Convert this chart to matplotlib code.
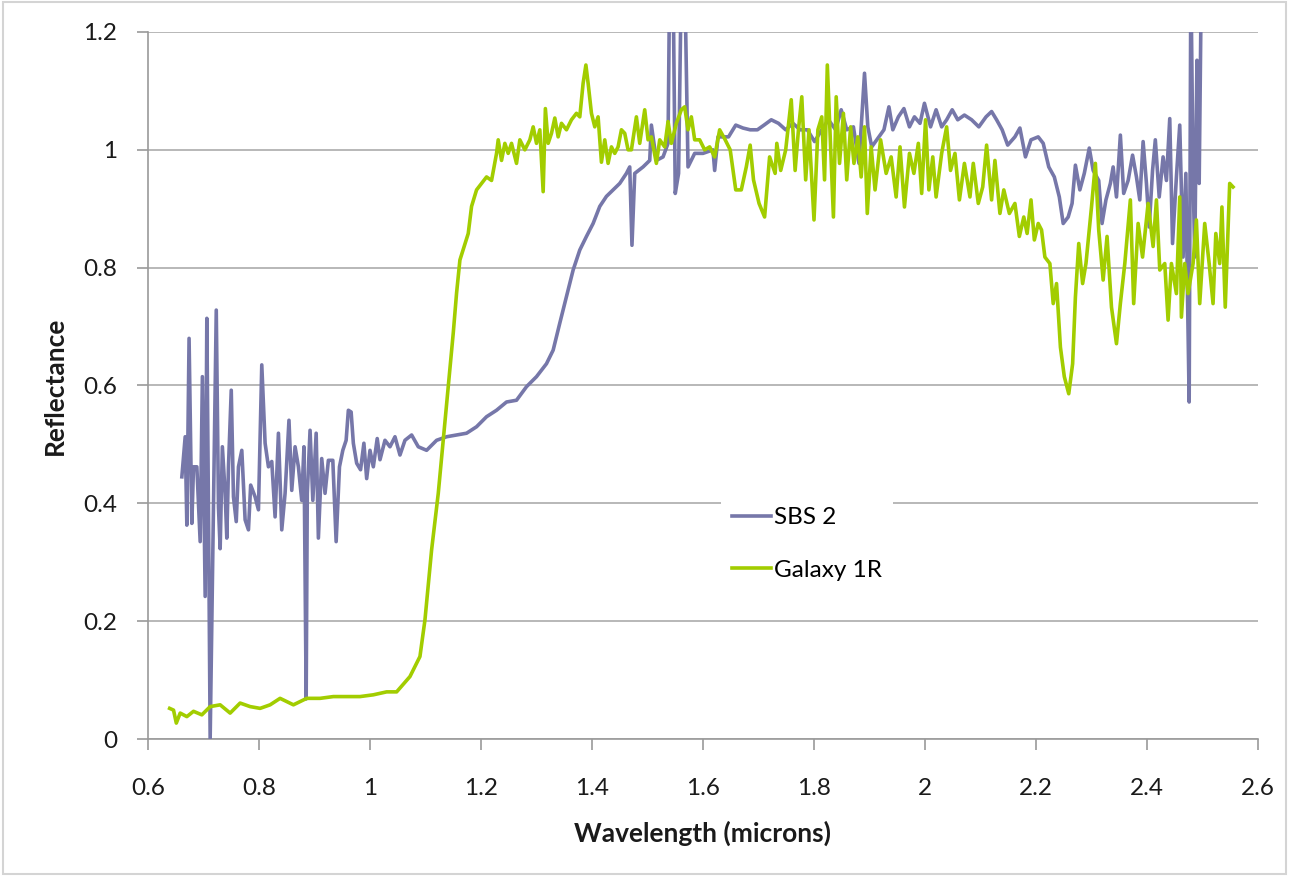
import matplotlib
matplotlib.use("Agg")
import matplotlib.pyplot as plt
from matplotlib.patches import Rectangle

# ---- data ----
sbs_x = [0.661, 0.667, 0.670, 0.674, 0.679, 0.682, 0.688, 0.694, 0.698, 0.703, 0.706, 0.709, 0.712,
         0.718, 0.723, 0.727, 0.730, 0.734, 0.739, 0.742, 0.745, 0.750, 0.754, 0.759, 0.763, 0.769,
         0.775, 0.781, 0.785, 0.793, 0.799, 0.805, 0.811, 0.817, 0.823, 0.829, 0.835, 0.841, 0.847,
         0.854, 0.859, 0.865, 0.871, 0.877, 0.881, 0.885, 0.887, 0.892, 0.897, 0.903, 0.907, 0.913,
         0.919, 0.925, 0.933, 0.939, 0.945, 0.951, 0.957, 0.961, 0.966, 0.970, 0.976, 0.983, 0.989,
         0.994, 1.000, 1.006, 1.013, 1.018, 1.027, 1.036, 1.045, 1.054, 1.063, 1.075, 1.087,
         1.102, 1.120, 1.138, 1.156, 1.174, 1.192, 1.210, 1.228, 1.246, 1.264, 1.282, 1.300, 1.318,
         1.330, 1.342, 1.354, 1.366, 1.378, 1.390, 1.402, 1.414, 1.426, 1.438, 1.450, 1.462, 1.468,
         1.472, 1.477, 1.492, 1.504, 1.507, 1.516, 1.528, 1.537, 1.540, 1.546, 1.550, 1.556, 1.561,
         1.567, 1.573, 1.585, 1.600, 1.618, 1.621, 1.627, 1.633, 1.646, 1.659, 1.672, 1.685, 1.698,
         1.710, 1.723, 1.736, 1.749, 1.762, 1.775, 1.788, 1.801, 1.814, 1.826, 1.839, 1.849, 1.859,
         1.871, 1.881, 1.891, 1.897, 1.904, 1.917, 1.926, 1.935, 1.942, 1.952, 1.962, 1.972, 1.981,
         1.991, 1.999, 2.010, 2.020, 2.030, 2.039, 2.049, 2.059, 2.071, 2.084, 2.097, 2.110, 2.120,
         2.129, 2.139, 2.149, 2.162, 2.171, 2.181, 2.191, 2.204, 2.213, 2.223, 2.233, 2.242, 2.249,
         2.258, 2.265, 2.271, 2.279, 2.287, 2.296, 2.303, 2.313, 2.319, 2.326, 2.334, 2.339, 2.345,
         2.352, 2.358, 2.366, 2.374, 2.381, 2.387, 2.393, 2.399, 2.404, 2.410, 2.415, 2.422, 2.429,
         2.435, 2.441, 2.446, 2.453, 2.459, 2.465, 2.470, 2.473, 2.476, 2.479, 2.483, 2.486, 2.490,
         2.494, 2.498]
sbs_y = [0.445, 0.513, 0.363, 0.680, 0.366, 0.462, 0.462, 0.335, 0.615, 0.242, 0.714, 0.383, 0.000,
         0.393, 0.728, 0.393, 0.323, 0.496, 0.417, 0.341, 0.462, 0.592, 0.411, 0.369, 0.462, 0.490,
         0.372, 0.355, 0.431, 0.411, 0.389, 0.635, 0.502, 0.462, 0.471, 0.377, 0.519, 0.355, 0.417,
         0.541, 0.422, 0.496, 0.462, 0.405, 0.496, 0.068, 0.417, 0.524, 0.405, 0.519, 0.341, 0.476,
         0.417, 0.473, 0.473, 0.335, 0.462, 0.490, 0.507, 0.558, 0.555, 0.502, 0.468, 0.457, 0.502,
         0.442, 0.490, 0.462, 0.510, 0.474, 0.507, 0.496, 0.513, 0.482, 0.507, 0.516, 0.496,
         0.490, 0.507, 0.513, 0.516, 0.519, 0.530, 0.547, 0.558, 0.572, 0.575, 0.598, 0.615, 0.637,
         0.660, 0.706, 0.751, 0.796, 0.830, 0.853, 0.875, 0.904, 0.921, 0.932, 0.943, 0.960, 0.971,
         0.838, 0.960, 0.971, 0.982, 1.042, 0.982, 0.988, 1.011, 1.300, 1.300, 0.926, 0.960, 1.300,
         1.300, 0.971, 0.994, 0.994, 1.000, 0.965, 1.022, 1.022, 1.022, 1.042, 1.037, 1.034, 1.034,
         1.042, 1.051, 1.045, 1.034, 1.045, 1.034, 1.034, 1.014, 1.034, 1.051, 1.034, 1.068, 1.034,
         1.039, 0.977, 1.130, 1.039, 1.005, 1.022, 1.034, 1.073, 1.034, 1.056, 1.070, 1.039, 1.056,
         1.045, 1.079, 1.039, 1.068, 1.039, 1.051, 1.068, 1.051, 1.059, 1.051, 1.039, 1.056, 1.065,
         1.051, 1.034, 1.008, 1.022, 1.037, 0.988, 1.017, 1.022, 1.011, 0.971, 0.954, 0.920, 0.875,
         0.886, 0.909, 0.974, 0.932, 0.960, 1.003, 0.965, 0.948, 0.875, 0.915, 0.943, 0.971, 0.920,
         1.025, 0.926, 0.948, 0.991, 0.954, 0.915, 1.014, 0.943, 0.869, 0.965, 1.017, 0.920, 0.988,
         0.948, 1.053, 0.841, 0.954, 1.042, 0.818, 0.960, 0.751, 0.572, 1.300, 0.960, 0.818, 1.152,
         0.943, 1.300]

gal_x = [0.639, 0.646, 0.651, 0.658, 0.670, 0.682, 0.697, 0.712, 0.730, 0.748, 0.766, 0.784, 0.802,
         0.820, 0.838, 0.862, 0.886, 0.910, 0.934, 0.958, 0.982, 1.006, 1.030, 1.048, 1.072, 1.090,
         1.099, 1.111, 1.123, 1.132, 1.141, 1.150, 1.156, 1.162, 1.171, 1.177, 1.183, 1.192, 1.201,
         1.210, 1.219, 1.228, 1.231, 1.237, 1.243, 1.249, 1.255, 1.264, 1.270, 1.279, 1.288, 1.294,
         1.300, 1.306, 1.312, 1.316, 1.321, 1.327, 1.333, 1.339, 1.345, 1.354, 1.363, 1.372, 1.378,
         1.384, 1.389, 1.393, 1.399, 1.405, 1.411, 1.417, 1.423, 1.429, 1.435, 1.441, 1.447, 1.453,
         1.459, 1.465, 1.471, 1.480, 1.486, 1.495, 1.501, 1.507, 1.516, 1.522, 1.531, 1.537, 1.543,
         1.552, 1.561, 1.567, 1.573, 1.579, 1.585, 1.594, 1.603, 1.612, 1.621, 1.630, 1.640, 1.649,
         1.659, 1.669, 1.678, 1.685, 1.691, 1.701, 1.711, 1.720, 1.730, 1.733, 1.740, 1.749, 1.759,
         1.766, 1.772, 1.778, 1.785, 1.791, 1.800, 1.807, 1.814, 1.819, 1.824, 1.830, 1.835, 1.840,
         1.846, 1.853, 1.859, 1.866, 1.872, 1.879, 1.885, 1.891, 1.896, 1.903, 1.910, 1.920, 1.930,
         1.939, 1.948, 1.955, 1.963, 1.972, 1.980, 1.988, 1.994, 2.001, 2.007, 2.014, 2.020, 2.030,
         2.039, 2.046, 2.054, 2.062, 2.071, 2.081, 2.087, 2.096, 2.104, 2.111, 2.120, 2.126, 2.135,
         2.142, 2.152, 2.162, 2.170, 2.178, 2.184, 2.191, 2.197, 2.204, 2.210, 2.216, 2.225, 2.231,
         2.237, 2.244, 2.251, 2.259, 2.266, 2.271, 2.277, 2.284, 2.290, 2.300, 2.307, 2.313, 2.321,
         2.328, 2.336, 2.345, 2.352, 2.360, 2.370, 2.376, 2.384, 2.392, 2.402, 2.411, 2.417, 2.423,
         2.432, 2.438, 2.444, 2.453, 2.459, 2.462, 2.468, 2.474, 2.483, 2.489, 2.495, 2.504, 2.512,
         2.519, 2.524, 2.531, 2.535, 2.541, 2.549, 2.555]
gal_y = [0.052, 0.049, 0.027, 0.044, 0.038, 0.047, 0.041, 0.055, 0.058, 0.044, 0.061, 0.055, 0.052,
         0.058, 0.069, 0.058, 0.069, 0.069, 0.072, 0.072, 0.072, 0.075, 0.080, 0.080, 0.106, 0.140,
         0.202, 0.321, 0.417, 0.508, 0.598, 0.689, 0.757, 0.813, 0.840, 0.858, 0.904, 0.932, 0.943,
         0.954, 0.948, 0.994, 1.017, 0.982, 1.011, 0.994, 1.011, 0.977, 1.017, 1.000, 1.017, 1.039,
         1.011, 1.034, 0.929, 1.070, 1.011, 1.028, 1.054, 1.022, 1.045, 1.034, 1.051, 1.062, 1.056,
         1.113, 1.144, 1.113, 1.062, 1.039, 1.056, 0.979, 1.017, 0.977, 1.005, 0.994, 1.005, 1.034,
         1.028, 1.000, 1.000, 1.056, 1.011, 1.068, 1.017, 1.022, 0.977, 1.017, 1.005, 1.048, 1.011,
         1.045, 1.068, 1.073, 1.034, 1.056, 1.017, 1.017, 1.000, 1.005, 0.988, 1.034, 1.017, 1.000,
         0.932, 0.932, 0.971, 1.008, 0.949, 0.909, 0.886, 0.988, 0.960, 1.011, 0.965, 1.000, 1.085,
         0.965, 1.034, 1.090, 0.949, 1.034, 0.881, 1.034, 1.056, 0.949, 1.144, 1.005, 0.886, 1.090,
         0.977, 1.062, 0.949, 1.039, 0.977, 1.022, 0.954, 1.039, 0.892, 1.005, 0.932, 1.017, 0.960,
         0.988, 0.920, 1.005, 0.903, 0.994, 0.960, 1.011, 0.926, 1.051, 0.932, 0.988, 0.920, 0.994,
         1.039, 0.965, 0.994, 0.915, 0.977, 0.920, 0.977, 0.909, 0.937, 1.008, 0.915, 0.982, 0.892,
         0.932, 0.892, 0.909, 0.853, 0.886, 0.858, 0.915, 0.847, 0.875, 0.864, 0.818, 0.807, 0.739,
         0.773, 0.665, 0.615, 0.586, 0.637, 0.750, 0.841, 0.773, 0.807, 0.903, 0.977, 0.864, 0.779,
         0.853, 0.733, 0.671, 0.739, 0.807, 0.915, 0.739, 0.875, 0.818, 0.909, 0.836, 0.915, 0.796,
         0.807, 0.711, 0.807, 0.756, 0.920, 0.716, 0.807, 0.756, 0.807, 0.881, 0.739, 0.875, 0.807,
         0.739, 0.858, 0.807, 0.903, 0.733, 0.943, 0.937]

series_labels = ["SBS 2", "Galaxy 1R"]
series_colors = ["#7677A9", "#A2CD00"]
x_ticks = [0.6, 0.8, 1.0, 1.2, 1.4, 1.6, 1.8, 2.0, 2.2, 2.4, 2.6]
x_tick_labels = ["0.6", "0.8", "1", "1.2", "1.4", "1.6", "1.8", "2", "2.2", "2.4", "2.6"]
y_ticks = [0, 0.2, 0.4, 0.6, 0.8, 1.0, 1.2]
y_tick_labels = ["0", "0.2", "0.4", "0.6", "0.8", "1", "1.2"]
x_label = "Wavelength (microns)"
y_label = "Reflectance"

plt.rcParams['font.family'] = ['Lato', 'DejaVu Sans']

fig = plt.figure(figsize=(12.89, 8.76), dpi=100)
ax = fig.add_axes([148/1289, 1-739/876, (1258-148)/1289, (739-32)/876])

ax.plot(sbs_x, sbs_y, color=series_colors[0], lw=2.6, label=series_labels[0], zorder=3,
        solid_joinstyle='round')
ax.plot(gal_x, gal_y, color=series_colors[1], lw=2.6, label=series_labels[1], zorder=4,
        solid_joinstyle='round')

ax.set_xlim(0.6, 2.6)
ax.set_ylim(0, 1.2)
ax.set_xticks(x_ticks)
ax.set_xticklabels(x_tick_labels)
ax.set_yticks(y_ticks)
ax.set_yticklabels(y_tick_labels)
ax.yaxis.grid(True, color='#ababab', lw=1.2, zorder=0)
ax.set_axisbelow(True)
for s in ['top', 'right']:
    ax.spines[s].set_visible(False)
for s in ['left', 'bottom']:
    ax.spines[s].set_color('#9a9a9a')
    ax.spines[s].set_linewidth(1.2)
ax.tick_params(axis='both', direction='out', length=8, width=1.2, color='#9a9a9a',
               labelsize=17.5, labelcolor='#1a1a1a')
ax.tick_params(axis='x', pad=20)
ax.tick_params(axis='y', pad=14)

ax.set_xlabel(x_label, fontsize=19, fontweight='bold', labelpad=16, color='#1a1a1a')
ax.set_ylabel(y_label, fontsize=19, fontweight='bold', labelpad=12, color='#1a1a1a')

leg = ax.legend(loc='center', bbox_to_anchor=(807/1289, 1-544/876), bbox_transform=fig.transFigure,
                frameon=True, fontsize=17.5, handlelength=1.6, handletextpad=0.15,
                labelspacing=1.3, borderpad=0.45, borderaxespad=0, fancybox=False)
leg.get_frame().set_facecolor('white')
leg.get_frame().set_edgecolor('none')
leg.get_frame().set_alpha(1)

fig.patches.append(Rectangle((0.002, 0.002), 0.996, 0.996, transform=fig.transFigure,
                             fill=False, edgecolor='#d4d4d4', lw=1.5))

fig.savefig("out.png", dpi=100)
